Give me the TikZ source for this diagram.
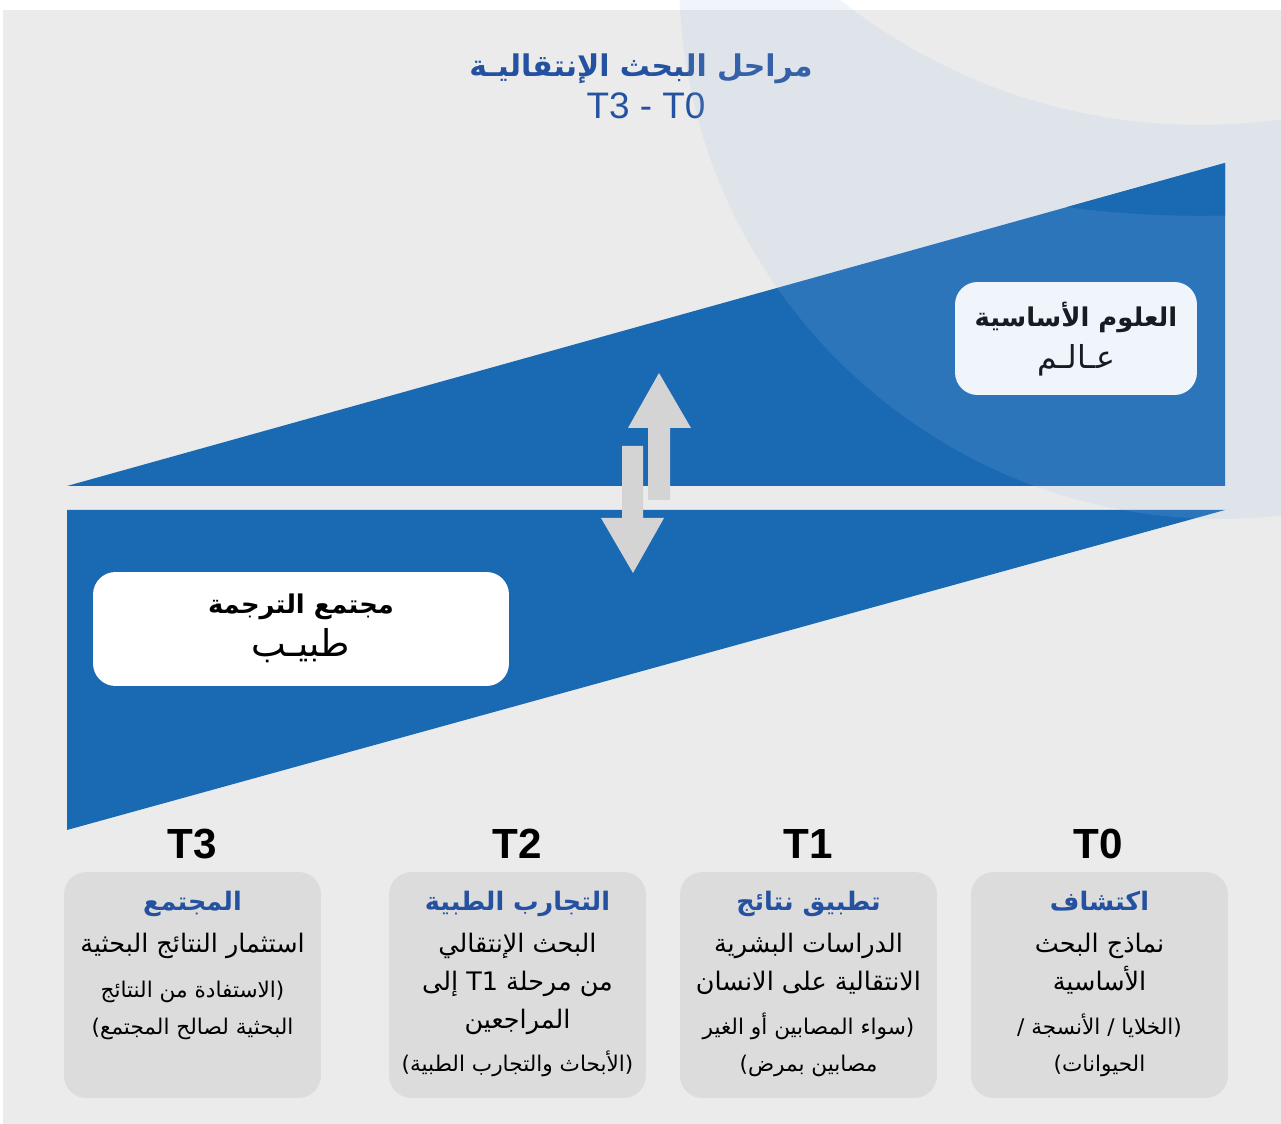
\documentclass[tikz,border=0pt]{standalone}
\usepackage{fontspec}
\setmainfont{Liberation Sans}
\newfontfamily\arabicfont[Script=Arabic]{DejaVu Sans}
\TeXXeTstate=1
\newcommand{\artext}[1]{{\arabicfont\beginR #1\endR}}
\definecolor{bgGrey}{HTML}{EBEBEB}
\definecolor{stageGrey}{HTML}{DDDCDD}
\definecolor{triBlue}{HTML}{1A69B3}
\definecolor{titleBlue}{HTML}{2451A0}
\definecolor{arrowGrey}{HTML}{D4D4D4}
\definecolor{ringBlue}{RGB}{154,190,227}

\begin{document}
\begin{tikzpicture}[x = 0.02cm, y = -0.02cm]
\tikzstyle{lineStyle} = [inner sep = 0pt, text height = 1.6ex, text depth = 0.5ex, anchor = center]
\tikzstyle{headStyle} = [lineStyle, text = titleBlue, font = \fontsize{17}{20}\selectfont\bfseries]
\tikzstyle{rangeStyle} = [lineStyle, text = titleBlue, font = \fontsize{21}{24}\selectfont]
\tikzstyle{stageLabel} = [lineStyle, font = \fontsize{24}{28}\selectfont\bfseries]
\tikzstyle{stageBox} = [fill = stageGrey, rounded corners = 0.45cm, minimum width = 5.14cm, minimum height = 4.52cm, inner sep = 0pt]
\tikzstyle{stageTitle} = [lineStyle, text = titleBlue, font = \fontsize{14.5}{17}\selectfont\bfseries]
\tikzstyle{stageText} = [lineStyle, font = \fontsize{14.5}{17}\selectfont]
\tikzstyle{stageNote} = [lineStyle, font = \fontsize{12.3}{15}\selectfont]
\tikzstyle{roleBox} = [fill = white, rounded corners = 0.45cm, inner sep = 0pt]
\tikzstyle{roleTitle} = [lineStyle, font = \fontsize{14.7}{17}\selectfont\bfseries]
\tikzstyle{roleName} = [lineStyle, font = \fontsize{18}{21}\selectfont]
\tikzstyle{ringStyle} = [fill = ringBlue, fill opacity = 0.15, even odd rule]
\useasboundingbox (0,0) rectangle (1281,1124);
\fill[white] (0,0) rectangle (1281,1124);
\fill[bgGrey] (3,10) rectangle (1281,1124);
\fill[triBlue] (67,486) -- (1225,486) -- (1225,163) -- cycle;
\fill[triBlue] (67,510) -- (1225,510) -- (67,830) -- cycle;
\fill[arrowGrey] (648,500) -- (648,428) -- (628,428) -- (659,373) -- (691,428) -- (670,428) -- (670,500) -- cycle;
\fill[arrowGrey] (622,446) -- (622,518) -- (601,518) -- (633,573) -- (664,518) -- (643,518) -- (643,446) -- cycle;
\node[headStyle] (title) at (641,71) {\artext{مراحل البحث الإنتقاليـة}};
\node[rangeStyle] (range) at (646,113) {T3 - T0};
\node[roleBox, minimum width = 8.32cm, minimum height = 2.28cm] (doctorBox) at (301,629) {};
\node[roleTitle] (doctorTitle) at (301,608) {\artext{مجتمع الترجمة}};
\node[roleName, font = \fontsize{21}{24}\selectfont] (doctorName) at (301,651) {\artext{طبيـب}};
\node[roleBox, minimum width = 4.84cm, minimum height = 2.26cm] (scientistBox) at (1076,338.5) {};
\node[roleTitle] (scientistTitle) at (1076,321) {\artext{العلوم الأساسية}};
\node[roleName] (scientistName) at (1076,363) {\artext{عـالـم}};
\node[stageLabel] (t3) at (192,853) {T3};
\node[stageLabel] (t2) at (517,853) {T2};
\node[stageLabel] (t1) at (808,853) {T1};
\node[stageLabel] (t0) at (1098,853) {T0};
\node[stageBox] (box3) at (192.5,985) {};
\node[stageBox] (box2) at (517.5,985) {};
\node[stageBox] (box1) at (808.5,985) {};
\node[stageBox] (box0) at (1099.5,985) {};
\node[stageTitle] (box3Title) at (192.5,905) {\artext{المجتمع}};
\node[stageText] (box3LineA) at (192.5,947) {\artext{استثمار النتائج البحثية}};
\node[stageNote] (box3LineB) at (192.5,992) {\artext{(الاستفادة من النتائج}};
\node[stageNote] (box3LineC) at (192.5,1029) {\artext{البحثية لصالح المجتمع)}};
\node[stageTitle] (box2Title) at (517.5,905) {\artext{التجارب الطبية}};
\node[stageText] (box2LineA) at (517.5,947) {\artext{البحث الإنتقالي}};
\node[stageText] (box2LineB) at (517.5,985) {\artext{من مرحلة \beginL T1\endL{} إلى}};
\node[stageText] (box2LineC) at (517.5,1023) {\artext{المراجعين}};
\node[stageNote] (box2LineD) at (517.5,1066) {\artext{(الأبحاث والتجارب الطبية)}};
\node[stageTitle] (box1Title) at (808.5,905) {\artext{تطبيق نتائج}};
\node[stageText] (box1LineA) at (808.5,947) {\artext{الدراسات البشرية}};
\node[stageText] (box1LineB) at (808.5,985) {\artext{الانتقالية على الانسان}};
\node[stageNote] (box1LineC) at (808.5,1029) {\artext{(سواء المصابين أو الغير}};
\node[stageNote] (box1LineD) at (808.5,1066) {\artext{مصابين بمرض)}};
\node[stageTitle] (box0Title) at (1099.5,905) {\artext{اكتشاف}};
\node[stageText] (box0LineA) at (1099.5,947) {\artext{نماذج البحث}};
\node[stageText] (box0LineB) at (1099.5,985) {\artext{الأساسية}};
\node[stageNote] (box0LineC) at (1099.5,1029) {\artext{(الخلايا / الأنسجة /}};
\node[stageNote] (box0LineD) at (1099.5,1066) {\artext{الحيوانات)}};
\begin{scope}
\clip (0,0) rectangle (1281,1124);
\fill[ringStyle] (1221,-23) circle (10.84cm) (1200,-456) circle (11.62cm);
\end{scope}
\begin{scope}
\clip (67,486) -- (1225,486) -- (1225,163) -- cycle;
\fill[triBlue] (1200,-784) circle (20cm);
\end{scope}
\end{tikzpicture}
\end{document}
